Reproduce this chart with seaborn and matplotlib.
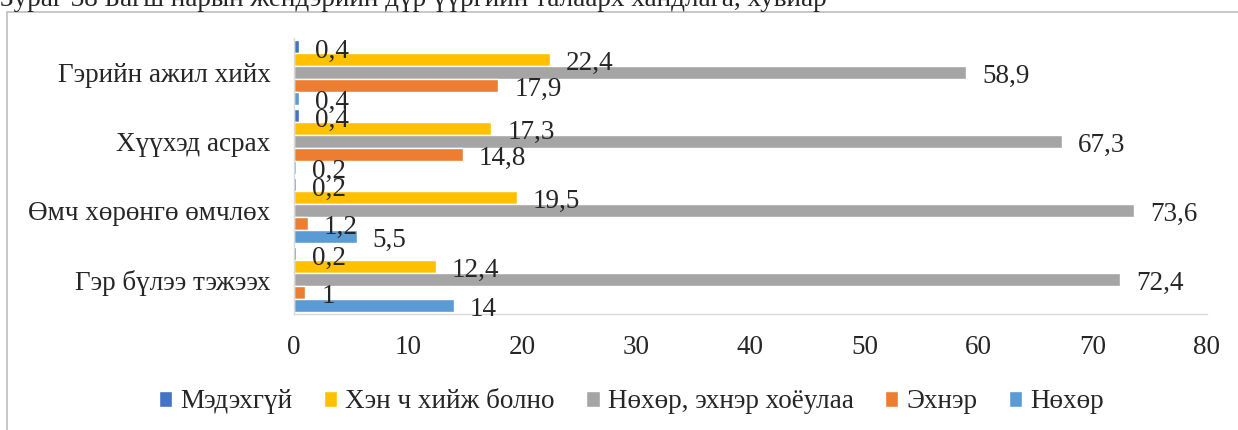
import pandas as pd
import matplotlib
matplotlib.use("Agg")
import matplotlib.pyplot as plt
from matplotlib.patches import Rectangle
import seaborn as sns

# chart data
categories = ["Гэрийн ажил хийх", "Хүүхэд асрах", "Өмч хөрөнгө өмчлөх", "Гэр бүлээ тэжээх"]
series = ["Мэдэхгүй", "Хэн ч хийж болно", "Нөхөр, эхнэр хоёулаа", "Эхнэр", "Нөхөр"]
medekhgui = [0.4, 0.4, 0.2, 0.2]
hen_ch = [22.4, 17.3, 19.5, 12.4]
hoyulaa = [58.9, 67.3, 73.6, 72.4]
ekhner = [17.9, 14.8, 1.2, 1]
nokhor = [0.4, 0.2, 5.5, 14]
colors = ["#4472C4", "#FFC000", "#A5A5A5", "#ED7D31", "#5B9BD5"]
x_ticks = [0, 10, 20, 30, 40, 50, 60, 70, 80]

rows = []
for s, vals in zip(series, [medekhgui, hen_ch, hoyulaa, ekhner, nokhor]):
    for c, v in zip(categories, vals):
        rows.append({"cat": c, "series": s, "value": v})
df = pd.DataFrame(rows)

sns.set_style("white")
plt.rcParams["font.family"] = ["Liberation Serif", "DejaVu Serif"]
fs = 19.5

fig = plt.figure(figsize=(12.38, 4.30), dpi=100)
ax = fig.add_axes([294 / 1238, 1 - 314 / 430, (1207 - 294) / 1238, 276 / 430])

sns.barplot(data=df, x="value", y="cat", hue="series", order=categories,
            hue_order=series, palette=colors, saturation=1, orient="h",
            width=0.93, gap=0, errorbar=None, ax=ax, legend=True)

for cont in ax.containers:
    labels = [("%g" % b.get_width()).replace(".", ",") for b in cont]
    anns = ax.bar_label(cont, labels=labels, fontsize=fs)
    for a in anns:
        a.xyann = (11.5, -3)

ax.set_xlim(0, 80)
ax.set_xticks(x_ticks)
ax.set_xlabel("")
ax.set_ylabel("")
ax.tick_params(axis="x", length=0, pad=15, labelsize=fs)
ax.tick_params(axis="y", length=0, pad=17, labelsize=fs)
for side in ["top", "right"]:
    ax.spines[side].set_visible(False)
for side in ["left", "bottom"]:
    ax.spines[side].set_color("#D9D9D9")
    ax.spines[side].set_linewidth(1)

handles, labs = ax.get_legend_handles_labels()
ax.get_legend().remove()
fig.legend(handles, labs, loc="center", bbox_to_anchor=(0.51, 1 - 402 / 430),
           ncol=5, frameon=False, fontsize=fs, handlelength=0.5, handleheight=0.5,
           handletextpad=0.3, columnspacing=1.15)

# outer chart frame (partly cut by the image edge)
fig.add_artist(Rectangle((7 / 1238, -0.1), 1.2, 1.1 - 12 / 430,
                         transform=fig.transFigure, fill=False,
                         edgecolor="#BFBFBF", linewidth=1.2))

fig.text(0.0, 1 - 6 / 430, "Зураг 38 Багш нарын жендэрийн дүр үүргийн талаарх хандлага, хувиар",
         fontsize=fs, va="baseline", ha="left")

fig.savefig("out.png", dpi=100)
